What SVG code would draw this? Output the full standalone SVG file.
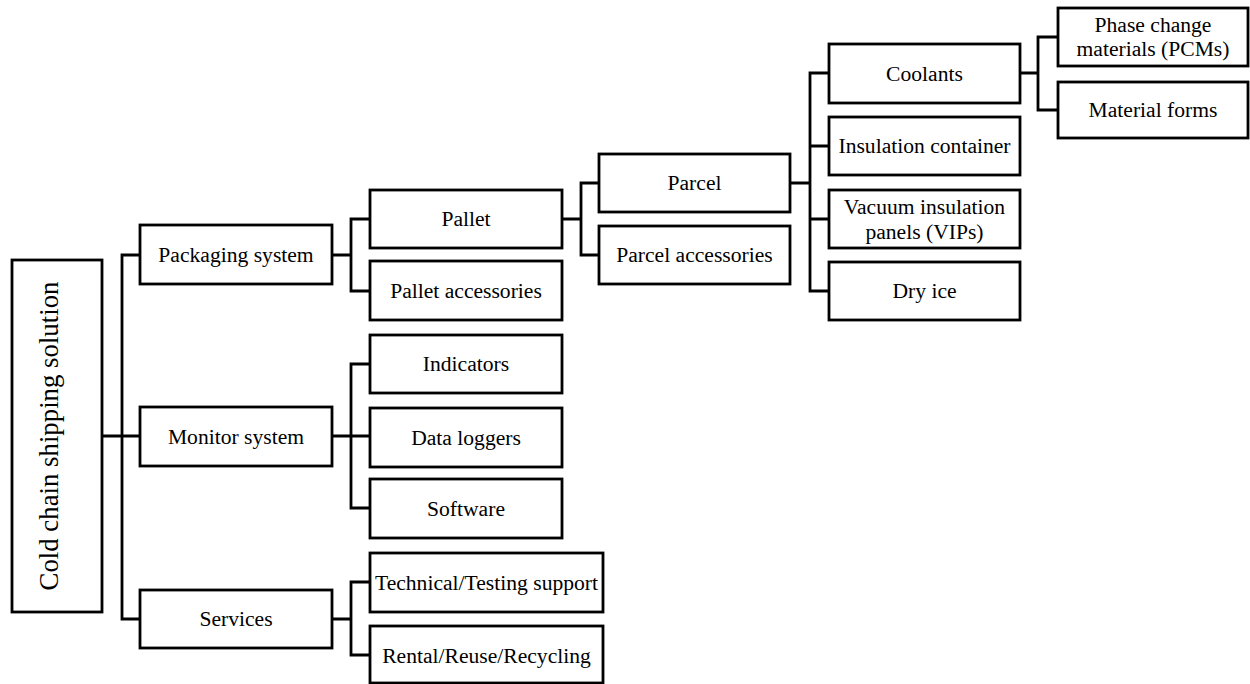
<svg xmlns="http://www.w3.org/2000/svg" width="1250" height="684" viewBox="0 0 1250 684">
  <style>
    .box { fill: #ffffff; stroke: #000000; stroke-width: 2.8; }
    .lbl { font-family: "Liberation Serif", "Times New Roman", serif; font-size: 21.6px; fill: #000000; text-anchor: middle; }
    .root { font-family: "Liberation Serif", "Times New Roman", serif; font-size: 26.8px; fill: #000000; text-anchor: middle; }
    .wire { fill: none; stroke: #000000; stroke-width: 2.8; stroke-linejoin: miter; stroke-linecap: square; }
  </style>
  <rect width="1250" height="684" fill="#ffffff"/>

  <!-- tree connectors -->
  <g id="connectors">
    <path class="wire" d="M102 436 H122 M122 255 V619 M122 255 H140 M122 436 H140 M122 619 H140"/>
    <path class="wire" d="M332 255 H351 M351 219 V291 M351 219 H370 M351 291 H370"/>
    <path class="wire" d="M332 436 H370 M351 364 V508 M351 364 H370 M351 508 H370"/>
    <path class="wire" d="M332 619 H351 M351 582 V655 M351 582 H370 M351 655 H370"/>
    <path class="wire" d="M562 219 H581 M581 183 V255 M581 183 H599 M581 255 H599"/>
    <path class="wire" d="M790 183 H810 M810 73 V291 M810 73 H829 M810 146 H829 M810 219 H829 M810 291 H829"/>
    <path class="wire" d="M1020 73 H1038 M1038 37 V110 M1038 37 H1058 M1038 110 H1058"/>
  </g>

  <!-- root -->
  <g id="n-root">
    <rect class="box" x="12" y="260" width="90" height="352"/>
    <text class="root" transform="translate(58 436) rotate(-90)">Cold chain shipping solution</text>
  </g>

  <!-- level 1 -->
  <g id="n-packaging">
    <rect class="box" x="140" y="225" width="192" height="59"/>
    <text class="lbl" x="236" y="262">Packaging system</text>
  </g>
  <g id="n-monitor">
    <rect class="box" x="140" y="407" width="192" height="59"/>
    <text class="lbl" x="236" y="444">Monitor system</text>
  </g>
  <g id="n-services">
    <rect class="box" x="140" y="590" width="192" height="58"/>
    <text class="lbl" x="236" y="626">Services</text>
  </g>

  <!-- level 2 -->
  <g id="n-pallet">
    <rect class="box" x="370" y="190" width="192" height="58"/>
    <text class="lbl" x="466" y="226">Pallet</text>
  </g>
  <g id="n-pallet-acc">
    <rect class="box" x="370" y="261" width="192" height="59"/>
    <text class="lbl" x="466" y="298">Pallet accessories</text>
  </g>
  <g id="n-indicators">
    <rect class="box" x="370" y="335" width="192" height="58"/>
    <text class="lbl" x="466" y="371">Indicators</text>
  </g>
  <g id="n-loggers">
    <rect class="box" x="370" y="408" width="192" height="59"/>
    <text class="lbl" x="466" y="445">Data loggers</text>
  </g>
  <g id="n-software">
    <rect class="box" x="370" y="479" width="192" height="59"/>
    <text class="lbl" x="466" y="516">Software</text>
  </g>
  <g id="n-tech">
    <rect class="box" x="370" y="553" width="233" height="59"/>
    <text class="lbl" x="486.5" y="590">Technical/Testing support</text>
  </g>
  <g id="n-rental">
    <rect class="box" x="370" y="626" width="233" height="57"/>
    <text class="lbl" x="486.5" y="663">Rental/Reuse/Recycling</text>
  </g>

  <!-- level 3 -->
  <g id="n-parcel">
    <rect class="box" x="599" y="154" width="191" height="58"/>
    <text class="lbl" x="694.5" y="190">Parcel</text>
  </g>
  <g id="n-parcel-acc">
    <rect class="box" x="599" y="226" width="191" height="58"/>
    <text class="lbl" x="694.5" y="262">Parcel accessories</text>
  </g>

  <!-- level 4 -->
  <g id="n-coolants">
    <rect class="box" x="829" y="44" width="191" height="59"/>
    <text class="lbl" x="924.5" y="80.5">Coolants</text>
  </g>
  <g id="n-insulation">
    <rect class="box" x="829" y="117" width="191" height="58"/>
    <text class="lbl" x="924.5" y="153">Insulation container</text>
  </g>
  <g id="n-vips">
    <rect class="box" x="829" y="190" width="191" height="58"/>
    <text class="lbl" x="924.5" y="213.5">Vacuum insulation</text>
    <text class="lbl" x="924.5" y="238.5">panels (VIPs)</text>
  </g>
  <g id="n-dryice">
    <rect class="box" x="829" y="262" width="191" height="58"/>
    <text class="lbl" x="924.5" y="298">Dry ice</text>
  </g>

  <!-- level 5 -->
  <g id="n-pcm">
    <rect class="box" x="1058" y="8" width="190" height="58"/>
    <text class="lbl" x="1153" y="31.5">Phase change</text>
    <text class="lbl" x="1153" y="56">materials (PCMs)</text>
  </g>
  <g id="n-forms">
    <rect class="box" x="1058" y="82" width="190" height="56"/>
    <text class="lbl" x="1153" y="117">Material forms</text>
  </g>
</svg>
